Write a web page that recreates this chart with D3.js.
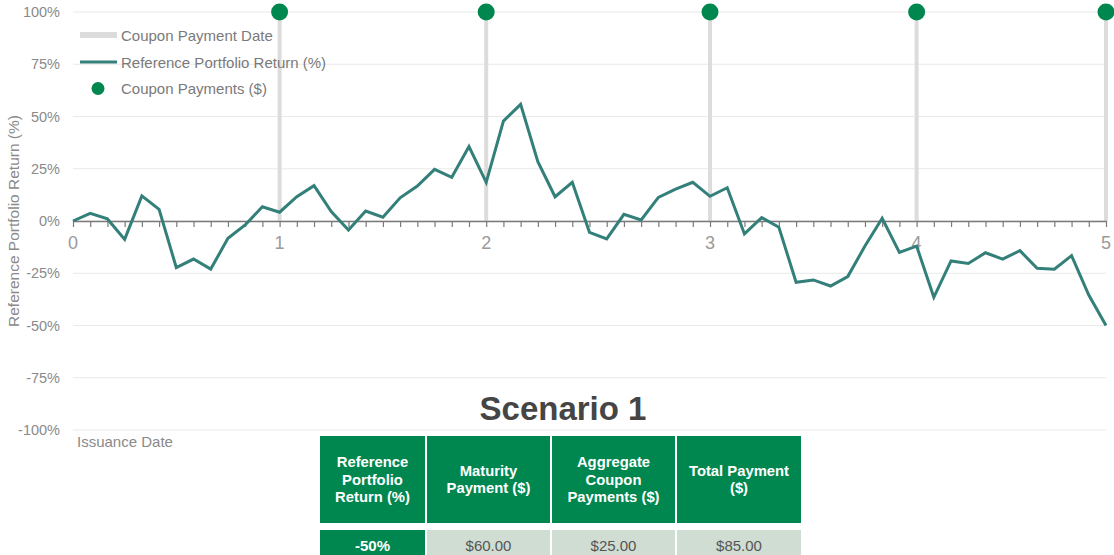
<!DOCTYPE html>
<html>
<head>
<meta charset="utf-8">
<script src="https://cdn.jsdelivr.net/npm/d3@7"></script>
<style>
  html, body { margin: 0; padding: 0; background: #fff; }
  svg { display: block; font-family: "Liberation Sans", Arial, sans-serif; }
</style>
</head>
<body>
<svg id="chart" width="1114" height="555"></svg>
<script>
// Monthly observations of the reference portfolio return (%)
const months = d3.range(0, 61);
const portfolioReturn = [
  0, 3.7, 1, -8.8, 12, 5.6, -22.3, -18.2, -23, -8.3, -1.9, 6.8,
  4.2, 11.6, 16.9, 4.5, -4.3, 4.8, 1.8, 11.1, 16.7, 24.7, 20.9, 35.6,
  18.5, 47.8, 55.8, 28.4, 11.6, 18.5, -5.4, -8.6, 3.2, 0.5, 11.3, 15.2,
  18.5, 11.8, 15.9, -6.2, 1.6, -3, -29.3, -28.2, -31.1, -26.6, -12, 1.3,
  -15, -12, -36.5, -19.1, -20.3, -15.2, -18.2, -14.2, -22.6, -23.1, -16.6, -35.4,
  -50
];

// Year labels and the observation they fall on
const yearLabels = ["0", "1", "2", "3", "4", "5"];
const yearIndex = [0, 12, 24, 37, 49, 60];

// Coupon payment dates (observation index) and amounts ($)
const couponIndex = [12, 24, 37, 49, 60];
const couponPayments = [5, 5, 5, 5, 5];

const yTicks = [100, 75, 50, 25, 0, -25, -50, -75, -100];

// Scenario table
const tableHeaders = ["Reference\nPortfolio\nReturn (%)", "Maturity\nPayment ($)", "Aggregate\nCoupon\nPayments ($)", "Total Payment\n($)"];
const tableRow = ["-50%", "$60.00", "$25.00", "$85.00"];

const green = "#00874f";
const teal = "#337f7a";

const svg = d3.select("#chart");
const plotLeft = 73, plotRight = 1106, plotTop = 12, plotBottom = 430;

const x = d3.scaleLinear().domain([0, 60]).range([plotLeft, plotRight]);
const y = d3.scaleLinear().domain([-100, 100]).range([plotBottom, plotTop]);
const yCoupon = d3.scaleLinear().domain([-5, 5]).range([plotBottom, plotTop]);

// Horizontal gridlines
svg.append("g").selectAll("line").data(yTicks).join("line")
  .attr("x1", plotLeft).attr("x2", plotRight)
  .attr("y1", d => y(d)).attr("y2", d => y(d))
  .attr("stroke", "#e9e9e9").attr("stroke-width", 1.2);

// Y tick labels
svg.append("g").selectAll("text").data(yTicks).join("text")
  .attr("x", 60).attr("y", d => y(d) + 5)
  .attr("text-anchor", "end")
  .attr("font-size", 14.5).attr("fill", "#8a8a8a")
  .text(d => d + "%");

// Y axis title
svg.append("text")
  .attr("transform", `translate(19, ${y(0)}) rotate(-90)`)
  .attr("text-anchor", "middle")
  .attr("font-size", 15.5).attr("fill", "#8a8a8a")
  .text("Reference Portfolio Return (%)");

// Coupon payment date markers
svg.append("g").selectAll("line").data(couponIndex).join("line")
  .attr("x1", d => x(d)).attr("x2", d => x(d))
  .attr("y1", y(0)).attr("y2", plotTop)
  .attr("stroke", "#dcdcdc").attr("stroke-width", 4);

// Zero axis with one tick per observation
const xAxis = d3.axisBottom(x)
  .tickValues(months)
  .tickSize(6).tickSizeOuter(0).tickFormat("");
const axisG = svg.append("g").attr("transform", `translate(0, ${y(0)})`).call(xAxis);
axisG.select(".domain").attr("stroke", "#7a7a7a").attr("stroke-width", 1.5);
axisG.selectAll(".tick line").attr("stroke", "#7a7a7a").attr("stroke-width", 1.2);

// Year labels
svg.append("g").selectAll("text").data(yearIndex).join("text")
  .attr("x", d => x(d)).attr("y", y(0) + 28)
  .attr("text-anchor", "middle")
  .attr("font-size", 18).attr("fill", "#9a9a9a")
  .text((d, i) => yearLabels[i]);

// Return line
const line = d3.line().x((d, i) => x(months[i])).y(d => y(d));
svg.append("path").datum(portfolioReturn)
  .attr("d", line)
  .attr("fill", "none").attr("stroke", teal).attr("stroke-width", 3)
  .attr("stroke-linejoin", "miter");

// Coupon payment dots
svg.append("g").selectAll("circle").data(couponIndex).join("circle")
  .attr("cx", d => x(d)).attr("cy", (d, i) => yCoupon(couponPayments[i]))
  .attr("r", 8.5).attr("fill", green);

// Legend
const legend = svg.append("g").attr("font-size", 15).attr("fill", "#7a7a7a");
legend.append("rect").attr("x", 80).attr("y", 32).attr("width", 37).attr("height", 6).attr("fill", "#dcdcdc");
legend.append("text").attr("x", 121).attr("y", 40.5).text("Coupon Payment Date");
legend.append("line").attr("x1", 80).attr("x2", 117).attr("y1", 62).attr("y2", 62).attr("stroke", teal).attr("stroke-width", 3);
legend.append("text").attr("x", 121).attr("y", 67.5).text("Reference Portfolio Return (%)");
legend.append("circle").attr("cx", 98).attr("cy", 88.5).attr("r", 6.5).attr("fill", green);
legend.append("text").attr("x", 121).attr("y", 94).text("Coupon Payments ($)");

// Issuance label
svg.append("text").attr("x", 77).attr("y", 447)
  .attr("font-size", 15).attr("fill", "#8a8a8a").text("Issuance Date");

// Scenario title
svg.append("text").attr("x", 563).attr("y", 420)
  .attr("text-anchor", "middle").attr("font-size", 33).attr("font-weight", "bold")
  .attr("fill", "#454545").text("Scenario 1");

// Table
const colX = [320, 427, 552, 677];
const colW = [105, 123, 123, 124];
const headY = 436, headH = 87, rowY = 530, rowH = 30;

const head = svg.append("g");
tableHeaders.forEach((h, i) => {
  head.append("rect").attr("x", colX[i]).attr("y", headY).attr("width", colW[i]).attr("height", headH).attr("fill", green);
  const lines = h.split("\n");
  const lh = 17.5;
  const t = head.append("text").attr("text-anchor", "middle")
    .attr("font-size", 14.8).attr("font-weight", "bold").attr("fill", "#fff");
  lines.forEach((ln, j) => {
    t.append("tspan").attr("x", colX[i] + colW[i] / 2)
      .attr("y", headY + headH / 2 + 5 + (j - (lines.length - 1) / 2) * lh)
      .text(ln);
  });
});

const row = svg.append("g");
tableRow.forEach((v, i) => {
  row.append("rect").attr("x", colX[i]).attr("y", rowY).attr("width", colW[i]).attr("height", rowH)
    .attr("fill", i === 0 ? green : "#cfddd3");
  row.append("text").attr("x", colX[i] + colW[i] / 2).attr("y", rowY + 21)
    .attr("text-anchor", "middle").attr("font-size", 15)
    .attr("font-weight", i === 0 ? "bold" : "normal")
    .attr("fill", i === 0 ? "#fff" : "#555").text(v);
});
</script>
</body>
</html>
